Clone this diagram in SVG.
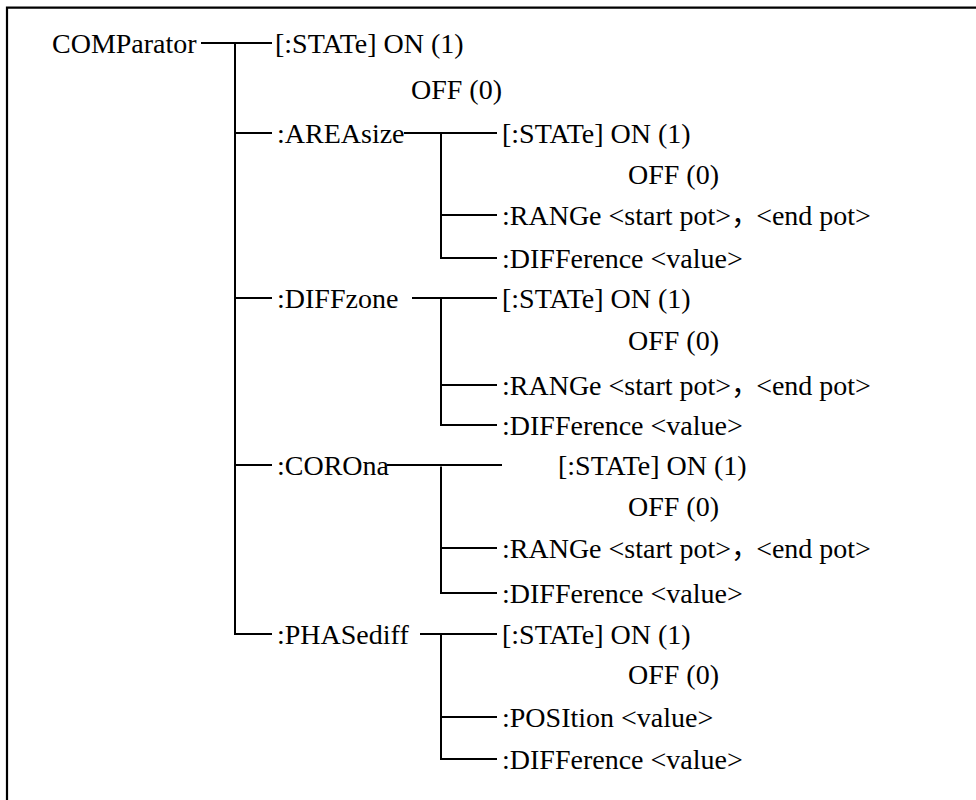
<svg xmlns="http://www.w3.org/2000/svg" width="976" height="800" viewBox="0 0 976 800">
  <defs>
    <style>
      .wire { fill: none; stroke: #000; stroke-width: 2; }
      .frame { fill: none; stroke: #000; stroke-width: 2.2; }
    </style>
  </defs>
  <rect width="976" height="800" fill="#fff"/>
  <!-- outer frame (open on the right and bottom edges of the page) -->
  <path class="frame" d="M7,802 V7.7 H978"/>

  <g id="connectors">
    <!-- root to main trunk -->
    <path class="wire" d="M201,43 H272"/>
    <path class="wire" d="M235,43 V634 H272"/>
    <path class="wire" d="M235,133 H272"/>
    <path class="wire" d="M235,298 H272"/>
    <path class="wire" d="M235,465 H272"/>
    <!-- AREAsize branch -->
    <path class="wire" d="M404,133 H497"/>
    <path class="wire" d="M441,133 V258 H497"/>
    <path class="wire" d="M441,215 H497"/>
    <!-- DIFFzone branch -->
    <path class="wire" d="M412,298 H497"/>
    <path class="wire" d="M441,298 V425 H497"/>
    <path class="wire" d="M441,385 H497"/>
    <!-- COROna branch -->
    <path class="wire" d="M387,465 H502"/>
    <path class="wire" d="M441,466.5 V593 H497"/>
    <path class="wire" d="M441,548 H497"/>
    <!-- PHASediff branch -->
    <path class="wire" d="M420,634 H497"/>
    <path class="wire" d="M441,634 V759 H497"/>
    <path class="wire" d="M441,717 H497"/>
  </g>

  <g id="labels" font-family="Liberation Serif, Noto Sans CJK SC, serif" font-size="28" fill="#000">
    <g id="comparator">
      <text x="52" y="52.5">COMParator</text>
      <text x="275" y="52.5">[:STATe] ON (1)</text>
      <text x="411" y="99">OFF (0)</text>
    </g>

    <g id="areasize">
      <text x="277" y="142.5">:AREAsize</text>
      <text x="502" y="142.5">[:STATe] ON (1)</text>
      <text x="628" y="183.5">OFF (0)</text>
      <text x="502" y="224.5">:RANGe &lt;start pot&gt;，<tspan dx="-3">&lt;end pot&gt;</tspan></text>
      <text x="502" y="267.5">:DIFFerence &lt;value&gt;</text>
    </g>

    <g id="diffzone">
      <text x="277" y="307.5">:DIFFzone</text>
      <text x="502" y="307.5">[:STATe] ON (1)</text>
      <text x="628" y="349.5">OFF (0)</text>
      <text x="502" y="394.5">:RANGe &lt;start pot&gt;，<tspan dx="-3">&lt;end pot&gt;</tspan></text>
      <text x="502" y="434.5">:DIFFerence &lt;value&gt;</text>
    </g>

    <g id="corona">
      <text x="277" y="474.5">:COROna</text>
      <text x="558" y="474.5">[:STATe] ON (1)</text>
      <text x="628" y="515.5">OFF (0)</text>
      <text x="502" y="557.5">:RANGe &lt;start pot&gt;，<tspan dx="-3">&lt;end pot&gt;</tspan></text>
      <text x="502" y="602.5">:DIFFerence &lt;value&gt;</text>
    </g>

    <g id="phasediff">
      <text x="277" y="643.5">:PHASediff</text>
      <text x="502" y="643.5">[:STATe] ON (1)</text>
      <text x="628" y="683.5">OFF (0)</text>
      <text x="502" y="726.5">:POSItion &lt;value&gt;</text>
      <text x="502" y="768.5">:DIFFerence &lt;value&gt;</text>
    </g>
  </g>
</svg>
